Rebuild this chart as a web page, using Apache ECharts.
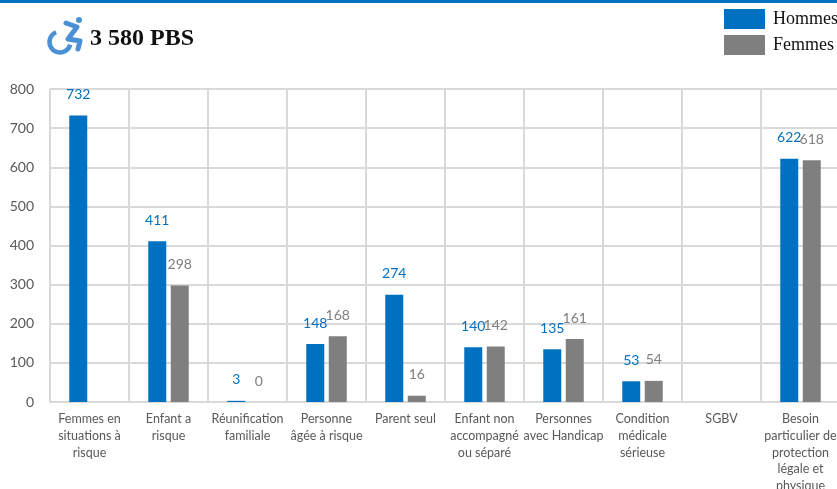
<!DOCTYPE html>
<html>
<head>
<meta charset="utf-8">
<style>html,body{margin:0;padding:0;background:#fff;overflow:hidden}#c{width:837px;height:489px}</style>
<script src="https://cdn.jsdelivr.net/npm/echarts@6/dist/echarts.min.js"></script>
</head>
<body>
<div id="c"></div>
<script>
const categories = ["Femmes en\nsituations à\nrisque","Enfant a\nrisque","Réunification\nfamiliale","Personne\nâgée à risque","Parent seul","Enfant non\naccompagné\nou séparé","Personnes\navec Handicap","Condition\nmédicale\nsérieuse","SGBV","Besoin\nparticulier de\nprotection\nlégale et\nphysique"];
const hommes = [732,411,3,148,274,140,135,53,null,622];
const femmes = [null,298,0,168,16,142,161,54,null,618];
const titleText = "3 580 PBS";
const blue = "#0070C0", gray = "#7F7F7F", iconBlue = "#4A90D4";
const chart = echarts.init(document.getElementById("c"), null, {renderer:"canvas"});
const mkSeries = (name, data, color) => ({
  name, type:"bar", data, barWidth:18, barGap:"25%",
  itemStyle:{color},
  label:{show:true, position:"top", distance:14, color, fontFamily:"Lato", fontSize:14}
});
const legendText = {fontFamily:"Liberation Serif", fontSize:18, color:"#111"};
chart.setOption({
  animation:false,
  backgroundColor:"#fff",
  title:{text:titleText, left:90, top:27, padding:0,
    textStyle:{fontFamily:"Liberation Serif", fontWeight:"bold", fontSize:24, color:"#111"}},
  legend:{orient:"vertical", left:724, top:9, padding:0, itemWidth:41, itemHeight:20, itemGap:6,
    icon:"rect", itemStyle:{borderWidth:0},
    textStyle:legendText,
    data:[{name:"Hommes", textStyle:{...legendText, padding:[2,0,0,3]}},
          {name:"Femmes", textStyle:{...legendText, padding:[0,0,14,3]}}]},
  grid:{left:50, right:-3, top:89, bottom:87, containLabel:false, outerBoundsMode:"none"},
  graphic:[
    {type:"rect", x:0, y:0, shape:{x:0, y:0, width:837, height:3}, style:{fill:blue}},
    {type:"arc", shape:{cx:60, cy:42, r:10.5, startAngle:0.25, endAngle:4.33, clockwise:true},
      style:{stroke:iconBlue, lineWidth:4.5, fill:"none"}},
    {type:"polyline", shape:{points:[[66,23],[77,27],[68,39],[80,41],[78,49]]},
      style:{stroke:iconBlue, lineWidth:5, fill:"none", lineJoin:"round", lineCap:"round"}},
    {type:"circle", shape:{cx:79, cy:20, r:3}, style:{fill:iconBlue}}
  ],
  xAxis:{type:"category", data:categories,
    axisLine:{lineStyle:{color:"#D9D9D9", width:2}},
    axisTick:{show:false},
    splitLine:{show:true, lineStyle:{color:"#D9D9D9", width:2}},
    axisLabel:{interval:0, margin:9, color:"#595959", fontFamily:"Lato", fontSize:12.5, lineHeight:16.6}},
  yAxis:{type:"value", min:0, max:800, interval:100,
    axisLine:{show:false}, axisTick:{show:false},
    splitLine:{show:true, lineStyle:{color:"#D9D9D9", width:2}},
    axisLabel:{margin:16, color:"#595959", fontFamily:"Lato", fontSize:14}},
  series:[mkSeries("Hommes",hommes,blue), mkSeries("Femmes",femmes,gray)]
});
</script>
</body>
</html>
